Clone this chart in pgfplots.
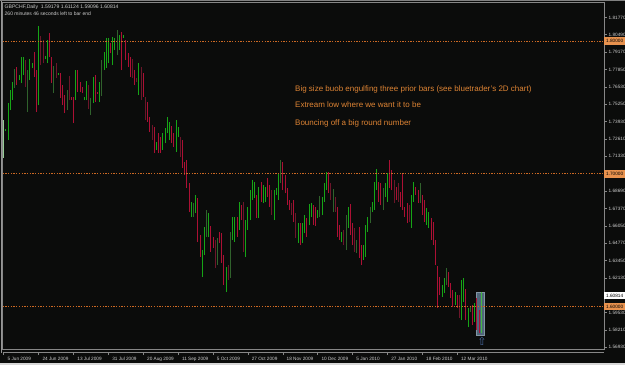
\documentclass[border=0pt]{standalone}
\usepackage{fontspec}
\setmainfont{Liberation Sans}
\newfontfamily\djv{DejaVu Sans}
\usepackage{pgfplots}
\usepackage{pgfplotstable}
\pgfplotsset{compat=1.18}
\definecolor{bg}{RGB}{11,12,11}
\definecolor{cG}{RGB}{22,165,22}
\definecolor{cR}{RGB}{172,16,52}
\definecolor{cDG}{RGB}{48,98,44}
\definecolor{cDR}{RGB}{108,22,42}
\definecolor{cLG}{RGB}{150,205,150}
\definecolor{framec}{RGB}{135,135,135}
\definecolor{lab}{RGB}{205,205,205}
\definecolor{dotc}{RGB}{205,105,35}
\definecolor{obox}{RGB}{232,146,78}
\definecolor{note}{RGB}{222,132,52}
\definecolor{boxc}{RGB}{78,102,122}
\definecolor{arrowc}{RGB}{70,105,160}
\definecolor{winc}{RGB}{215,215,215}

\pgfplotstableread{
i lo hi
0 1.7120 1.7406
}\tLG

\pgfplotstableread{
i lo hi
219 1.5800 1.6109
}\tLast

\pgfplotstableread{
i lo hi
1 1.7322 1.7338
2 1.7255 1.7533
3 1.7481 1.7632
4 1.7556 1.7692
7 1.7707 1.7744
8 1.7684 1.7880
9 1.7744 1.7880
12 1.7707 1.7865
13 1.7798 1.7835
16 1.7518 1.8114
19 1.7865 1.7888
20 1.7835 1.8009
25 1.7744 1.7759
33 1.7556 1.7782
37 1.7556 1.7579
38 1.7556 1.7699
41 1.7533 1.7729
44 1.7541 1.7692
46 1.7782 1.7918
47 1.7798 1.8024
48 1.7835 1.8024
50 1.7820 1.8031
51 1.7933 1.8024
53 1.7933 1.8046
55 1.8024 1.8046
62 1.7594 1.7835
70 1.7180 1.7240
73 1.7180 1.7307
74 1.7232 1.7346
75 1.7307 1.7428
76 1.7255 1.7391
79 1.7165 1.7406
80 1.7277 1.7353
86 1.6674 1.6788
88 1.6704 1.6840
91 1.6222 1.6426
92 1.6388 1.6599
94 1.6524 1.6704
102 1.6109 1.6298
105 1.6501 1.6674
106 1.6486 1.6674
108 1.6577 1.6788
111 1.6373 1.6652
112 1.6577 1.6750
113 1.6652 1.6878
114 1.6803 1.6954
115 1.6818 1.6939
117 1.6667 1.6901
119 1.6780 1.6916
120 1.6788 1.6901
124 1.6652 1.6878
125 1.6840 1.6894
126 1.6803 1.7006
135 1.6478 1.6629
137 1.6478 1.6629
138 1.6554 1.6689
140 1.6614 1.6773
141 1.6674 1.6780
144 1.6667 1.6727
146 1.6689 1.6825
147 1.6788 1.6931
148 1.6878 1.7014
155 1.6486 1.6562
158 1.6592 1.6750
165 1.6351 1.6463
166 1.6373 1.6614
167 1.6562 1.6674
169 1.6712 1.6788
170 1.6727 1.6939
171 1.6878 1.7036
175 1.6825 1.6931
176 1.6788 1.7006
187 1.6592 1.6840
188 1.6788 1.6939
194 1.6614 1.6743
195 1.6592 1.6712
201 1.6071 1.6162
202 1.6101 1.6215
207 1.6011 1.6109
210 1.5898 1.6200
211 1.6034 1.6215
213 1.5845 1.5989
216 1.5883 1.6026
}\tG

\pgfplotstableread{
i lo hi
6 1.7669 1.7805
14 1.7729 1.7918
15 1.7466 1.7782
21 1.7880 1.8061
22 1.7684 1.7880
26 1.7572 1.7759
27 1.7518 1.7669
28 1.7458 1.7594
31 1.7556 1.7579
32 1.7383 1.7579
34 1.7617 1.7782
35 1.7617 1.7692
36 1.7609 1.7654
42 1.7541 1.7744
43 1.7602 1.7617
49 1.7910 1.7986
54 1.7782 1.8069
56 1.7858 1.8009
57 1.7805 1.7910
58 1.7729 1.7880
60 1.7669 1.7782
64 1.7579 1.7759
66 1.7391 1.7541
67 1.7315 1.7428
69 1.7157 1.7353
71 1.7157 1.7307
72 1.7157 1.7277
77 1.7232 1.7361
78 1.7202 1.7307
82 1.7044 1.7255
83 1.6991 1.7089
84 1.6894 1.7104
85 1.6712 1.6931
89 1.6486 1.6818
90 1.6373 1.6539
95 1.6411 1.6607
96 1.6441 1.6524
99 1.6478 1.6562
100 1.6328 1.6554
101 1.6162 1.6388
107 1.6524 1.6674
109 1.6652 1.6765
116 1.6667 1.6840
118 1.6788 1.6939
121 1.6825 1.6969
122 1.6750 1.6916
128 1.6878 1.7089
129 1.6855 1.6991
130 1.6765 1.6894
131 1.6727 1.6803
133 1.6637 1.6803
136 1.6463 1.6629
139 1.6524 1.6667
142 1.6614 1.6765
143 1.6607 1.6750
149 1.6855 1.7014
153 1.6524 1.6750
154 1.6501 1.6614
159 1.6539 1.6773
160 1.6463 1.6629
163 1.6366 1.6599
164 1.6313 1.6463
172 1.6788 1.6939
173 1.6765 1.6931
177 1.6894 1.7104
178 1.6878 1.7029
180 1.6803 1.6901
182 1.6750 1.6863
183 1.6727 1.7006
184 1.6674 1.6750
185 1.6629 1.6780
189 1.6840 1.6901
190 1.6780 1.6878
192 1.6689 1.6840
193 1.6637 1.6803
196 1.6501 1.6667
197 1.6463 1.6637
198 1.6313 1.6501
199 1.5989 1.6306
200 1.6086 1.6222
204 1.6147 1.6260
205 1.6064 1.6177
206 1.5996 1.6124
208 1.5989 1.6086
212 1.5898 1.6132
215 1.5860 1.6011
217 1.5823 1.6064
218 1.5800 1.5974
}\tR

\pgfplotstableread{
i lo hi
5 1.7647 1.7790
11 1.7466 1.7782
23 1.7609 1.7813
29 1.7481 1.7632
40 1.7443 1.7572
45 1.7587 1.7858
52 1.7895 1.8084
87 1.6674 1.6780
93 1.6524 1.6727
98 1.6313 1.6517
104 1.6215 1.6562
127 1.6931 1.7104
145 1.6674 1.6833
151 1.6712 1.6886
157 1.6426 1.6689
162 1.6403 1.6501
168 1.6629 1.6750
174 1.6727 1.6894
191 1.6780 1.6931
203 1.6162 1.6291
214 1.5959 1.5996
}\tDG

\pgfplotstableread{
i lo hi
10 1.7654 1.7858
17 1.7820 1.8039
18 1.7835 1.8009
24 1.7722 1.7835
30 1.7556 1.7737
39 1.7488 1.7669
59 1.7722 1.7865
61 1.7692 1.7722
63 1.7556 1.7805
65 1.7406 1.7579
68 1.7255 1.7368
81 1.7127 1.7277
97 1.6291 1.6501
103 1.6200 1.6313
110 1.6411 1.6788
123 1.6689 1.6878
132 1.6689 1.6780
134 1.6517 1.6704
150 1.6803 1.6931
152 1.6712 1.6825
156 1.6463 1.6577
161 1.6411 1.6592
179 1.6780 1.6954
181 1.6788 1.6931
186 1.6637 1.6765
209 1.5913 1.6086
}\tDR

\begin{document}
\begin{tikzpicture}[x=1pt,y=1pt]
\useasboundingbox (0,0) rectangle (625,365);
\fill[bg] (0,0) rectangle (625,365);
\begin{axis}[
  at={(2.7pt,16pt)}, anchor=south west,
  scale only axis, width=601.3pt, height=347pt,
  xmin=-0.5, xmax=275.3, ymin=1.5680, ymax=1.8295,
  clip mode=individual,
  axis line style={draw=framec, line width=0.8pt},
  tick align=outside,
  xtick pos=left, ytick pos=right,
  xticklabel pos=left, yticklabel pos=right,
  major tick length=2.5pt,
  tick style={draw=framec, line width=0.6pt},
  xtick style={yshift=-3.7pt},
  /pgf/number format/assume math mode=true,
  ticklabel style={font=\fontsize{4.7}{5}\selectfont, text=lab},
  xticklabel style={anchor=north west, xshift=0.3pt, yshift=-1.8pt},
  yticklabel style={anchor=west, xshift=-1.4pt},
  xtick={0,16,32,48,64,80,96,112,128,144,160,176,192,208},
  xticklabels={5 Jun 2009,24 Jun 2009,13 Jul 2009,31 Jul 2009,20 Aug 2009,11 Sep 2009,5 Oct 2009,27 Oct 2009,18 Nov 2009,10 Dec 2009,5 Jan 2010,27 Jan 2010,18 Feb 2010,12 Mar 2010},
  ytick={1.8177,1.8049,1.7917,1.7785,1.7653,1.7525,1.7393,1.7261,1.7133,1.6869,1.6737,1.6605,1.6477,1.6345,1.6213,1.5953,1.5821,1.5693},
  yticklabels={1.81770,1.80490,1.79170,1.77850,1.76530,1.75250,1.73930,1.72610,1.71330,1.68690,1.67370,1.66050,1.64770,1.63450,1.62130,1.59530,1.58210,1.56930},
  every axis plot/.append style={forget plot},
]
% highlight box
\addplot[fill=boxc, draw=boxc!70!white, line width=0.5pt] coordinates {(216.9,1.5785) (220.3,1.5785) (220.3,1.6109) (216.9,1.6109)} -- cycle;
% bars
\addplot[draw=none, error bars/.cd, y dir=plus, y explicit, error mark=none,
  error bar style={draw=cDG, line width=1pt, solid}] table[x=i, y=lo, y error expr=\thisrow{hi}-\thisrow{lo}] {\tDG};
\addplot[draw=none, error bars/.cd, y dir=plus, y explicit, error mark=none,
  error bar style={draw=cDR, line width=1pt, solid}] table[x=i, y=lo, y error expr=\thisrow{hi}-\thisrow{lo}] {\tDR};
\addplot[draw=none, error bars/.cd, y dir=plus, y explicit, error mark=none,
  error bar style={draw=cR, line width=1pt, solid}] table[x=i, y=lo, y error expr=\thisrow{hi}-\thisrow{lo}] {\tR};
\addplot[draw=none, error bars/.cd, y dir=plus, y explicit, error mark=none,
  error bar style={draw=cG, line width=1pt, solid}] table[x=i, y=lo, y error expr=\thisrow{hi}-\thisrow{lo}] {\tG};
\addplot[draw=none, error bars/.cd, y dir=plus, y explicit, error mark=none,
  error bar style={draw=cLG, line width=1pt, solid}] table[x=i, y=lo, y error expr=\thisrow{hi}-\thisrow{lo}] {\tLG};
\addplot[draw=none, error bars/.cd, y dir=plus, y explicit, error mark=none,
  error bar style={draw=cG!80!white, line width=1.2pt, solid}] table[x=i, y=lo, y error expr=\thisrow{hi}-\thisrow{lo}] {\tLast};
% round-number levels
\addplot[draw=dotc, line width=1.1pt, dash pattern=on 1.3pt off 1.4pt] coordinates {(-0.5,1.8) (275.3,1.8)};
\addplot[draw=dotc, line width=1.1pt, dash pattern=on 1.3pt off 1.4pt] coordinates {(-0.5,1.7) (275.3,1.7)};
\addplot[draw=dotc, line width=1.1pt, dash pattern=on 1.3pt off 1.4pt] coordinates {(-0.5,1.6) (275.3,1.6)};
% arrow object
\node[text=arrowc, font=\djv\fontsize{11}{11}\selectfont, inner sep=0pt] at (axis cs:219.3,1.5738) {⇧};
% price-level labels on the right scale
\node[fill=obox, text=black, anchor=west, inner xsep=0.8pt, inner ysep=0pt, minimum width=21pt, minimum height=7.5pt, font=\fontsize{4.7}{5}\selectfont] at (axis cs:275.3,1.8) {1.80000};
\node[fill=obox, text=black, anchor=west, inner xsep=0.8pt, inner ysep=0pt, minimum width=21pt, minimum height=7.5pt, font=\fontsize{4.7}{5}\selectfont] at (axis cs:275.3,1.7) {1.70000};
\node[fill=obox, text=black, anchor=west, inner xsep=0.8pt, inner ysep=0pt, minimum width=21pt, minimum height=7.5pt, font=\fontsize{4.7}{5}\selectfont] at (axis cs:275.3,1.6) {1.60000};
\node[fill=white, text=black, anchor=west, inner xsep=0.8pt, inner ysep=0pt, minimum width=21pt, minimum height=7.5pt, font=\fontsize{4.7}{5}\selectfont] at (axis cs:275.3,1.60814) {1.60814};
\end{axis}
% frame extras
\draw[framec, line width=0.8pt] (2.7,12.3) -- (604,12.3);
\draw[winc!70!black, line width=1pt] (1.6,12) -- (1.6,365);
\fill[winc] (0,0) rectangle (625,2.2);
\fill[winc!60!black] (0,364) rectangle (625,365);
% header text
\node[anchor=base west, inner sep=0pt, text=lab, font=\fontsize{5.1}{6}\selectfont] at (4.5,356.6) {GBPCHF,Daily\ \ 1.59179 1.61124 1.59096 1.60814};
\node[anchor=base west, inner sep=0pt, text=lab, font=\fontsize{5}{6}\selectfont] at (4.5,349.4) {260 minutes 46 seconds left to bar end};
% annotations
\node[anchor=base west, inner sep=0pt, text=note, font=\fontsize{8}{9}\selectfont] at (295,273.7) {Big size buob engulfing three prior bars (see bluetrader's 2D chart)};
\node[anchor=base west, inner sep=0pt, text=note, font=\fontsize{8}{9}\selectfont] at (295,257) {Extream low where we want it to be};
\node[anchor=base west, inner sep=0pt, text=note, font=\fontsize{8}{9}\selectfont] at (295,239) {Bouncing off a big round number};
\end{tikzpicture}
\end{document}
